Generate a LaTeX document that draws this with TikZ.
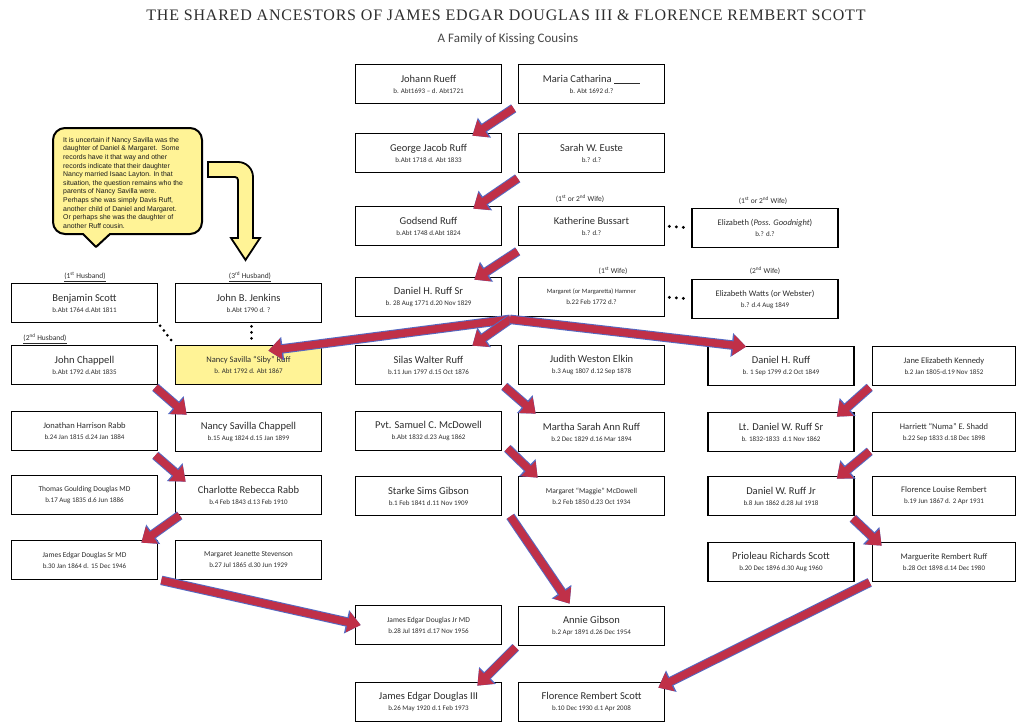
\documentclass[tikz,border=0pt]{standalone}
\usepackage{fontspec}
\setmainfont{Carlito}
\newfontfamily\titlefont[LetterSpace=5]{Liberation Serif}
\newfontfamily\bubblefont{Liberation Sans}
\usetikzlibrary{arrows.meta,calc}
\definecolor{arrred}{RGB}{192,48,72}
\definecolor{arrblue}{RGB}{85,105,195}
\definecolor{pyellow}{RGB}{255,243,150}
\definecolor{txt}{RGB}{45,45,45}
\newcommand{\pdates}[1]{\\[-1pt]{\fontsize{7}{8}\selectfont #1}}
\newcommand{\smallname}{\fontsize{8.5}{10}\selectfont}
\tikzset{
  person/.style={draw=black, line width=1.7pt, fill=white, minimum width=146pt,
    minimum height=39pt, inner sep=1pt, align=center, text=txt,
    font=\fontsize{10.5}{12}\selectfont},
  narrow/.style={minimum width=143pt},
  marked/.style={fill=pyellow},
  kin/.style={line width=7.5pt, draw=arrred, -{Triangle[length=13pt,width=20pt]},
    preaction={draw=arrblue, line width=9.5pt, -{Triangle[length=14.5pt,width=23pt]}}},
  bond/.style={line width=3.2pt, dash pattern=on 0pt off 7pt, line cap=round,
    shorten >=4pt, shorten <=4pt},
  bondtight/.style={line width=3pt, dash pattern=on 0pt off 6pt, line cap=round,
    shorten >=1.5pt, shorten <=3pt},
  lbl/.style={inner sep=0pt, text=txt, font=\fontsize{7.5}{9}\selectfont},
  notetext/.style={anchor=north west, inner sep=0pt, align=left, text=black!90,
    font=\bubblefont\fontsize{6.9}{8.6}\selectfont},
}
\begin{document}
\begin{tikzpicture}[x=1pt,y=-1pt]
\useasboundingbox (0,0) rectangle (1016,723);
\fill[white] (0,0) rectangle (1016,723);

% titles
\node[text=black!82] (title) at (506,15) {\titlefont\fontsize{16}{19}\selectfont THE SHARED ANCESTORS OF JAMES EDGAR DOUGLAS III \& FLORENCE REMBERT SCOTT};
\node[text=black!72] (subtitle) at (508,39) {\fontsize{13}{15}\selectfont A Family of Kissing Cousins};

% speech bubble
\draw[line width=2pt, fill=pyellow, line join=round]
  (65,128) -- (190,128) .. controls (196.6,128) and (202,133.4) .. (202,140)
  -- (202,222) .. controls (202,228.6) and (196.6,234) .. (190,234)
  -- (110,234) -- (96,247) -- (83,234) -- (65,234)
  .. controls (58.4,234) and (53,228.6) .. (53,222) -- (53,140)
  .. controls (53,133.4) and (58.4,128) .. (65,128) -- cycle;
\node[notetext] (note) at (63,137)
  {It is uncertain if Nancy Savilla was the\\
   daughter of Daniel \& Margaret.\ \ Some\\
   records have it that way and other\\
   records indicate that their daughter\\
   Nancy married Isaac Layton. In that\\
   situation, the question remains who the\\
   parents of Nancy Savilla were.\\
   Perhaps she was simply Davis Ruff,\\
   another child of Daniel and Margaret.\\
   Or perhaps she was the daughter of\\
   another Ruff cousin.};

% bent arrow
\draw[line width=1.8pt, fill=pyellow, line join=miter]
  (208,162) -- (238,162) .. controls (246.3,162) and (253,168.7) .. (253,177)
  -- (253,238) -- (260,238) -- (245.5,260) -- (231,238) -- (238,238)
  -- (238,180) .. controls (238,178.3) and (236.7,177) .. (235,177)
  -- (208,177) -- cycle;

% column C / D : Ruff line
\node[person] (johann) at (428.5,84) {Johann Rueff\pdates{b. Abt1693 – d. Abt1721}};
\node[person] (maria) at (591.5,84) {Maria Catharina \rule[-1pt]{26pt}{0.6pt}\pdates{b. Abt 1692 d.?}};
\node[person] (george) at (428.5,153) {George Jacob Ruff\pdates{b.Abt 1718 d. Abt 1833}};
\node[person] (sarah) at (591.5,153) {Sarah W. Euste\pdates{b.? d.?}};
\node[person] (godsend) at (428.5,226) {Godsend Ruff\pdates{b.Abt 1748 d.Abt 1824}};
\node[person] (katherine) at (591.5,226) {Katherine Bussart\pdates{b.? d.?}};
\node[person] (elizpo) at (765,228) {{\smallname Elizabeth (\textit{Poss. Goodnight})}\pdates{b.? d.?}};
\node[person] (danielsr) at (428.5,297) {Daniel H. Ruff Sr\pdates{b. 28 Aug 1771 d.20 Nov 1829}};
\node[person] (margaret) at (591.5,297) {{\fontsize{6.5}{8}\selectfont Margaret (or Margaretta) Hamner}\pdates{b.22 Feb 1772 d.?}};
\node[person] (elizw) at (765,299) {{\smallname Elizabeth Watts (or Webster)}\pdates{b.? d.4 Aug 1849}};

\node[lbl] (lwifea) at (580,199) {(1\textsuperscript{st} or 2\textsuperscript{nd} Wife)};
\node[lbl] (lwifeb) at (763,201) {(1\textsuperscript{st} or 2\textsuperscript{nd} Wife)};
\node[lbl] (lwifec) at (613,271) {(1\textsuperscript{st} Wife)};
\node[lbl] (lwifed) at (765,271) {(2\textsuperscript{nd} Wife)};

% left columns
\node[person] (benjamin) at (84.5,303) {Benjamin Scott\pdates{b.Abt 1764 d.Abt 1811}};
\node[person] (jenkins) at (248.5,303) {John B. Jenkins\pdates{b.Abt 1790 d. ?}};
\node[lbl] (lhusa) at (85,277) {\underline{(1\textsuperscript{st} Husband)}};
\node[lbl] (lhusc) at (250,277) {\underline{(3\textsuperscript{rd} Husband)}};
\node[lbl] (lhusb) at (45,339) {\underline{(2\textsuperscript{nd} Husband)}};

\node[person] (chappell) at (84.5,365) {John Chappell\pdates{b.Abt 1792 d.Abt 1835}};
\node[person, marked] (nancy) at (248.5,365) {{\smallname Nancy Savilla “Siby” Ruff}\pdates{b. Abt 1792 d. Abt 1867}};
\node[person] (silas) at (428.5,365) {Silas Walter Ruff\pdates{b.11 Jun 1797 d.15 Oct 1876}};
\node[person] (judith) at (591.5,365) {Judith Weston Elkin\pdates{b.3 Aug 1807 d.12 Sep 1878}};
\node[person] (danielh) at (781,366) {Daniel H. Ruff\pdates{b. 1 Sep 1799 d.2 Oct 1849}};
\node[person, narrow] (jane) at (944,366) {{\smallname Jane Elizabeth Kennedy}\pdates{b.2 Jan 1805-d.19 Nov 1852}};

\node[person] (rabb) at (84.5,431) {{\smallname Jonathan Harrison Rabb}\pdates{b.24 Jan 1815 d.24 Jan 1884}};
\node[person] (nancyc) at (248.5,432) {Nancy Savilla Chappell\pdates{b.15 Aug 1824 d.15 Jan 1899}};
\node[person] (samuel) at (428.5,431) {Pvt. Samuel C. McDowell\pdates{b.Abt 1832 d.23 Aug 1862}};
\node[person] (martha) at (591.5,432) {Martha Sarah Ann Ruff\pdates{b.2 Dec 1829 d.16 Mar 1894}};
\node[person] (ltdaniel) at (781,432) {Lt. Daniel W. Ruff Sr\pdates{b. 1832-1833\ \ d.1 Nov 1862}};
\node[person, narrow] (harriett) at (944,432) {{\smallname Harriett “Numa” E. Shadd}\pdates{b.22 Sep 1833 d.18 Dec 1898}};

\node[person] (thomas) at (84.5,495) {{\fontsize{7.5}{9}\selectfont Thomas Goulding Douglas MD}\pdates{b.17 Aug 1835 d.6 Jun 1886}};
\node[person] (charlotte) at (248.5,495) {Charlotte Rebecca Rabb\pdates{b.4 Feb 1843 d.13 Feb 1910}};
\node[person] (starke) at (428.5,496) {Starke Sims Gibson\pdates{b.1 Feb 1841 d.11 Nov 1909}};
\node[person] (maggie) at (591.5,496) {{\fontsize{7.5}{9}\selectfont Margaret “Maggie” McDowell}\pdates{b.2 Feb 1850 d.23 Oct 1934}};
\node[person] (danieljr) at (781,496) {Daniel W. Ruff Jr\pdates{b.8 Jun 1862 d.28 Jul 1918}};
\node[person, narrow] (florencel) at (944,496) {{\smallname Florence Louise Rembert}\pdates{b.19 Jun 1867 d. 2 Apr 1931}};

\node[person] (jamessr) at (84.5,560) {{\fontsize{7.5}{9}\selectfont James Edgar Douglas Sr MD}\pdates{b.30 Jan 1864 d. 15 Dec 1946}};
\node[person] (margaretj) at (248.5,560) {{\fontsize{7.5}{9}\selectfont Margaret Jeanette Stevenson}\pdates{b.27 Jul 1865 d.30 Jun 1929}};
\node[person] (prioleau) at (781,562) {Prioleau Richards Scott\pdates{b.20 Dec 1896 d.30 Aug 1960}};
\node[person, narrow] (marguerite) at (944,562) {{\smallname Marguerite Rembert Ruff}\pdates{b.28 Oct 1898 d.14 Dec 1980}};

\node[person] (jamesjr) at (428.5,625) {{\fontsize{7.5}{9}\selectfont James Edgar Douglas Jr MD}\pdates{b.28 Jul 1891 d.17 Nov 1956}};
\node[person] (annie) at (591.5,626) {Annie Gibson\pdates{b.2 Apr 1891 d.26 Dec 1954}};
\node[person] (jamesiii) at (428.5,702) {James Edgar Douglas III\pdates{b.26 May 1920 d.1 Feb 1973}};
\node[person] (florence) at (591.5,702) {Florence Rembert Scott\pdates{b.10 Dec 1930 d.1 Apr 2008}};

% marriage dots
\draw[bond] (katherine.east) -- (elizpo.west);
\draw[bond] (margaret.east) -- (elizw.west);
\draw[bondtight] (benjamin.south east) -- (nancy.north west);
\draw[bondtight] ($(jenkins.south)+(3,0)$) -- ($(nancy.north)+(3,0)$);

% descent arrows
\coordinate (j1) at ($(danielsr.south east)!0.5!(margaret.south west)+(0,2)$);
\draw[kin] ($(maria.south west)+(-4,4)$) -- ($(george.north east)+(-30,3)$);
\draw[kin] ($(sarah.south west)+(0,5)$) -- ($(godsend.north east)+(-29,3)$);
\draw[kin] ($(katherine.south west)+(0,5)$) -- ($(danielsr.north east)+(-28,3)$);
\draw[kin] (j1) -- ($(nancy.north east)+(-54,6)$);
\draw[kin] (j1) -- ($(silas.north east)+(-30,1)$);
\draw[kin] (j1) -- ($(danielh.north west)+(39,1)$);
\draw[kin] ($(chappell.south east)+(-3,2)$) -- ($(nancyc.north west)+(12,3)$);
\draw[kin] ($(rabb.south east)+(-3,4)$) -- ($(charlotte.north west)+(11,7)$);
\draw[kin] ($(charlotte.south west)+(5,0)$) -- ($(jamessr.north east)+(-17,3)$);
\draw[kin] ($(silas.south east)+(2,1)$) -- ($(martha.north west)+(18,2)$);
\draw[kin] ($(samuel.south east)+(5,-3)$) -- ($(maggie.north west)+(20,2)$);
\draw[kin] ($(starke.south east)+(8,0)$) -- ($(annie.north west)+(52,-2)$);
\draw[kin] ($(jane.south west)+(-2,1)$) -- ($(ltdaniel.north east)+(-18,5)$);
\draw[kin] ($(harriett.south west)+(-2,-1)$) -- ($(danieljr.north east)+(-18,3)$);
\draw[kin] ($(danieljr.south east)+(-2,2)$) -- ($(marguerite.north west)+(10,4)$);
\draw[kin] ($(jamessr.south east)+(3,0)$) -- ($(jamesjr.west)+(6,0)$);
\draw[kin] ($(annie.south west)+(-2,1)$) -- ($(jamesiii.north east)+(-25,4)$);
\draw[kin] ($(marguerite.south west)+(-2,0)$) -- ($(florence.north east)+(-7,6)$);
\end{tikzpicture}
\end{document}
